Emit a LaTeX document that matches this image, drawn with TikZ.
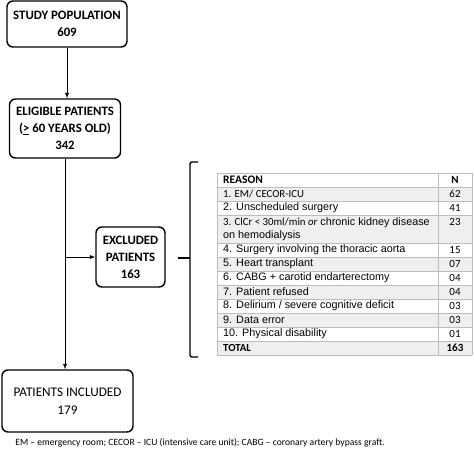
\documentclass[tikz,border=0pt]{standalone}
\usepackage{fontspec}
\setmainfont{Carlito}
\newfontfamily\arialfont{Liberation Sans}
\usetikzlibrary{arrows,positioning}
\definecolor{rowgray}{HTML}{EFEFEF}
\definecolor{gridgray}{HTML}{BDBDBD}
\tikzset{
    block/.style={rectangle, rounded corners=6pt, draw=black, line width=1.4pt, align=center, inner sep=0pt, font=\fontsize{12.8}{17}\selectfont\bfseries},
    line/.style={-latex, line width=0.9pt},
    brace/.style={line width=1.4pt, rounded corners=2pt},
    cell/.style={anchor=west, inner sep=0pt, align=left, font=\arialfont\fontsize{10.8}{13.5}\selectfont},
    ncell/.style={inner sep=0pt, font=\fontsize{11}{13}\selectfont},
    note/.style={font=\fontsize{9.6}{11}\selectfont},
}

\begin{document}
\begin{tikzpicture}[x=1pt,y=-1pt]
    \useasboundingbox (0,0) rectangle (474,450);

    % flow boxes
    \node[block, minimum width=120, minimum height=46] (study) at (67,24) {STUDY POPULATION\\609};
    \node[block, minimum width=111, minimum height=59] (eligible) at (65,128.5) {ELIGIBLE PATIENTS\\(\underline{>} 60 YEARS OLD)\\342};
    \node[block, minimum width=69, minimum height=60] (excluded) at (130.5,257) {EXCLUDED\\PATIENTS\\163};
    \node[block, font=\fontsize{13.2}{18}\selectfont, minimum width=131, minimum height=62] (included) at (67.5,401) {PATIENTS INCLUDED\\179};

    \coordinate (branch) at (eligible.south |- excluded.west);

    \draw[line] (study.south) -- (study.south |- eligible.north);
    \draw[line] (eligible.south) -- (eligible.south |- included.north);
    \draw[line] (branch) -- (excluded.west);

    % brace
    \coordinate (bracetop) at (190,162);
    \coordinate (bracebot) at (190,357);
    \coordinate (bracemid) at (190,258);
    \draw[brace] ([xshift=8pt]bracetop) -- (bracetop) -- (bracebot) -- ([xshift=8pt]bracebot);
    \draw[brace] (bracemid) -- ([xshift=-12pt]bracemid);

    % table
    \foreach \k in {1,3,4,6,8,10,12}
        \fill[rowgray] (217,173+14*\k) rectangle (472,187+14*\k);
    \foreach \k in {0,1,2,3,5,6,...,13}
        \draw[gridgray, line width=0.8pt] (217,173+14*\k) -- (472,173+14*\k);
    \foreach \x in {217,438,472}
        \draw[gridgray, line width=0.8pt] (\x,173) -- (\x,355);

    \node[cell] (reason0) at (223,180) {\rmfamily\bfseries\fontsize{11.5}{13}\selectfont REASON};
    \node[cell] (reason1) at (223,194) {\rmfamily 1. EM/ CECOR-ICU};
    \node[cell] (reason2) at (223,208) {2. Unscheduled surgery};
    \node[cell] (reason3) at (223,229) {{\rmfamily 3. ClCr < 30ml/min \textit{or}} chronic kidney disease\\on hemodialysis};
    \node[cell] (reason4) at (223,250) {4. Surgery involving the thoracic aorta};
    \node[cell] (reason5) at (223,264) {5. Heart transplant};
    \node[cell] (reason6) at (223,278) {6. CABG + carotid endarterectomy};
    \node[cell] (reason7) at (223,292) {7. Patient refused};
    \node[cell] (reason8) at (223,306) {8. Delirium / severe cognitive deficit};
    \node[cell] (reason9) at (223,320) {9. Data error};
    \node[cell] (reason10) at (223,334) {10. Physical disability};
    \node[cell] (total) at (223,348) {\rmfamily\bfseries TOTAL};

    \node[ncell] (n0) at (455,180) {\bfseries N};
    \node[ncell] (n1) at (455,194) {62};
    \node[ncell] (n2) at (455,208) {41};
    \node[ncell] (n3) at (455,222) {23};
    \node[ncell] (n4) at (455,250) {15};
    \node[ncell] (n5) at (455,264) {07};
    \node[ncell] (n6) at (455,278) {04};
    \node[ncell] (n7) at (455,292) {04};
    \node[ncell] (n8) at (455,306) {03};
    \node[ncell] (n9) at (455,320) {03};
    \node[ncell] (n10) at (455,334) {01};
    \node[ncell] (ntotal) at (455,348) {\bfseries 163};

    \node[note] (footnote) at (200,443) {EM – emergency room; CECOR – ICU (intensive care unit); CABG – coronary artery bypass graft.};
\end{tikzpicture}
\end{document}
